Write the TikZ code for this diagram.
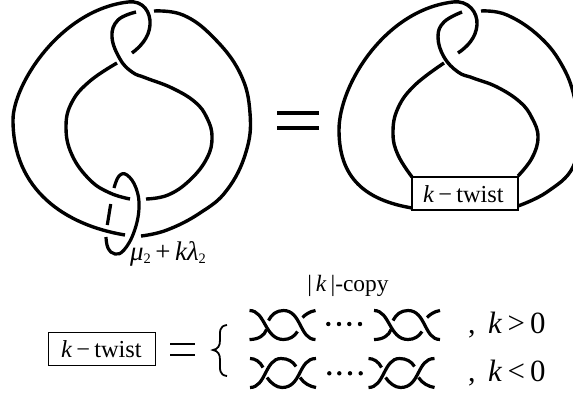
\documentclass[tikz,border=0pt]{standalone}
\usepackage{fontspec}
\setmainfont{Liberation Serif}
\begin{document}
\begin{tikzpicture}[x=1bp,y=-1bp,
  strand/.style={line width=3.4bp,line cap=butt,line join=round},
  twiststrand/.style={line width=3.2bp,line cap=butt},
  ring/.style={line width=3.2bp,line cap=butt},
  twistbox/.style={draw,line width=1.3bp,fill=white,inner sep=0pt,anchor=center},
  lab/.style={inner sep=0pt,anchor=base west},
  dotmark/.style={circle,fill=black,inner sep=0pt,minimum size=4.4bp}]
\useasboundingbox (0,0) rectangle (573,396);
% left knot
\draw[strand] (125,235) .. controls (65,225) and (13,190) .. (13,120) .. controls (13,85) and (60,10) .. (128,2) .. controls (143,0) and (151,12) .. (150,25) .. controls (149,38) and (140,47) .. (132,53);
\draw[strand] plot[smooth,tension=0.7] coordinates {(117,63) (90,81) (72,102) (66,127) (72,155) (90,180) (110,193) (130,199)};
\draw[strand] plot[smooth,tension=0.7] coordinates {(146,199) (168,195) (190,180) (207,158) (212,137) (207,118) (195,102) (172,88) (146,78) (132,72) (120,59) (112,37) (118,20) (136,12)};
\draw[strand] plot[smooth,tension=0.7] coordinates {(154,11) (183,15) (213,37) (240,73) (250,113) (246,152) (227,190) (200,213) (167,230) (141,236)};
% ring
\draw[ring] plot[smooth,tension=0.7] coordinates {(106,237) (108,248) (115,254) (124,250) (134,232) (139,208) (136,188) (127,175) (119,176) (114,188)};
\draw[ring] (110.7,204) -- (107.3,225);
% equals
\draw[line width=3.4bp] (277,113) -- (319,113) (277,128) -- (319,128);
\node[lab] at (130,260) {\fontsize{27}{27}\selectfont\textit{μ}\raisebox{-3bp}{\fontsize{14.5}{14.5}\selectfont 2}\,+\,\textit{kλ}\raisebox{-3bp}{\fontsize{14.5}{14.5}\selectfont 2}};
% right knot
\draw[strand] (412,208) .. controls (365,200) and (339,178) .. (339,130) .. controls (339,85) and (385,10) .. (453,2) .. controls (468,0) and (478,12) .. (477,25) .. controls (476,38) and (467,47) .. (458,53);
\draw[strand] plot[smooth,tension=0.7] coordinates {(444,63) (415,85) (398,108) (393,133) (398,155) (412,177)};
\draw[strand] plot[smooth,tension=0.7] coordinates {(518,176) (532,158) (538,137) (532,118) (520,102) (497,87) (473,78) (458,72) (444,57) (438,37) (444,22) (462,12)};
\draw[strand] plot[smooth,tension=0.7] coordinates {(481,11) (507,15) (540,37) (563,67) (575,100) (578,130) (573,167) (547,192) (518,206)};
\node[twistbox,minimum width=106bp,minimum height=33bp] (tb) at (465,193.5) {};
\node[lab] at (423,202) {\fontsize{24.5}{24.5}\selectfont\textit{k}\,−\,twist};
% bottom formula
\node[twistbox,minimum width=107bp,minimum height=33bp] (tc) at (102,349) {};
\node[lab] at (61,357) {\fontsize{24.5}{24.5}\selectfont\textit{k}\,−\,twist};
\draw[line width=2.6bp] (170,344) -- (195,344) (170,355) -- (195,355);
\draw[line width=1.8bp] (227,325) .. controls (219,326) and (220,331) .. (220,340) .. controls (220,346) and (218,349) .. (213,350) .. controls (218,351) and (220,354) .. (220,360) .. controls (220,370) and (219,375) .. (227,376);
\node[inner sep=0pt,anchor=base] at (348,291) {\fontsize{23.5}{23.5}\selectfont |\,\textit{k}\,|-copy};
\foreach \x/\y in {249.5/310.5,374/310.5}{
\begin{scope}[shift={(\x,\y)}]
\draw[twiststrand] (0,0) .. controls (16,0) and (15,29) .. (34,29) .. controls (40,29) and (45,26) .. (48,21);
\draw[twiststrand] (0,29) .. controls (9,29) and (15,25) .. (17,19);
\draw[twiststrand] (19,10) .. controls (22,4) and (27,0) .. (34,0) .. controls (52,0) and (50,29) .. (66,29);
\draw[twiststrand] (53,7) .. controls (56,4) and (60,1) .. (66,0);
\end{scope}}
\foreach \x/\y in {250/358.5,368.5/358.5}{
\begin{scope}[shift={(\x,\y)}]
\draw[twiststrand] (0,29) .. controls (16,29) and (15,0) .. (31,0) .. controls (38,0) and (43,3) .. (46,8);
\draw[twiststrand] (0,0) .. controls (5,0) and (10,3) .. (13,9);
\draw[twiststrand] (17,19) .. controls (21,25) and (27,29) .. (32,29) .. controls (52,29) and (48,0) .. (66,0);
\draw[twiststrand] (50,19) .. controls (54,25) and (60,28) .. (66,29);
\end{scope}}
\foreach \n/\x/\y in {a/328.3/324,b/339/324,c/349.3/324,d/360/324,e/329.3/373.3,f/339.3/373.3,g/350/373.3,h/360.7/373.3}{
\node[dotmark] (\n) at (\x,\y) {};}
\node[lab] at (468,333) {\fontsize{30}{30}\selectfont ,};
\node[lab] at (488,333) {\fontsize{31}{31}\selectfont \textit{k}\,>\,0};
\node[lab] at (468,381) {\fontsize{30}{30}\selectfont ,};
\node[lab] at (488,381) {\fontsize{31}{31}\selectfont \textit{k}\,<\,0};
\end{tikzpicture}
\end{document}
